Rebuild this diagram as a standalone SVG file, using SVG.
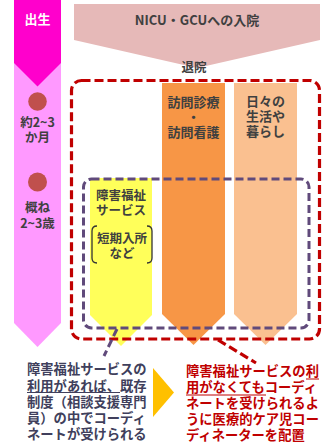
<svg xmlns="http://www.w3.org/2000/svg" width="328" height="442" viewBox="0 0 328 442">
<style>
text{font-family:"Noto Sans CJK JP","Noto Sans",sans-serif;font-weight:bold}
.lbl{font-size:13px;fill:#404040;text-anchor:middle}
.sm{font-size:12.5px;fill:#404040;text-anchor:middle}
.note{font-size:13.3px;fill:#403F5C}
.red{font-size:13.3px;fill:#C00000}
.reddash{fill:none;stroke:#C00000;stroke-width:3.2;stroke-dasharray:9,4}
.purdash{fill:none;stroke:#604A7B;stroke-width:3;stroke-dasharray:8,4}
</style>
<rect width="328" height="442" fill="#FFFFFF"/>
<g id="timeline">
<polygon points="14,0 61,0 61,323 37.5,347 14,323" fill="#FF99FF"/>
<polygon points="14,0 61,0 61,63 37.5,86.5 14,63" fill="#FF00CC"/>
<text x="37.5" y="24" class="lbl" style="fill:#FFFFFF">出生</text>
<circle cx="37.5" cy="101.5" r="9.3" fill="#C0504D"/>
<text x="37.5" y="127" class="sm">約2~3</text>
<text x="37.5" y="142" class="sm">か月</text>
<circle cx="37.5" cy="182" r="9.5" fill="#C0504D"/>
<text x="37.5" y="212" class="sm">概ね</text>
<text x="37.5" y="228" class="sm">2~3歳</text>
</g>
<g id="nicu">
<polygon points="74,4 320,4 320,40 197,68 74,40" fill="#E6B9B8"/>
<text x="197" y="25" class="lbl">NICU・GCUへの入院</text>
<text x="194" y="72" class="sm">退院</text>
</g>
<g id="homecare">
<polygon points="162,83 225,83 225,314 193.5,345 162,314" fill="#F79646"/>
<text x="193.5" y="107" class="lbl">訪問診療</text>
<text x="193.5" y="122" class="lbl">・</text>
<text x="193.5" y="137" class="lbl">訪問看護</text>
</g>
<g id="dailylife">
<polygon points="234,83 297,83 297,314 265.5,345 234,314" fill="#FAC090"/>
<text x="265.5" y="106" class="lbl">日々の</text>
<text x="265.5" y="121" class="lbl">生活や</text>
<text x="265.5" y="136" class="lbl">暮らし</text>
</g>
<g id="welfare">
<polygon points="90,178 152,178 152,315 121,346 90,315" fill="#FFFF5A"/>
<text x="121" y="200" class="sm">障害福祉</text>
<text x="121" y="215" class="sm">サービス</text>
<path d="M97,226 Q92,226 92,231 L92,258 Q92,263 97,263 M147,226 Q152,226 152,231 L152,258 Q152,263 147,263" fill="none" stroke="#333333" stroke-width="1.3"/>
<text x="122" y="243" class="sm">短期入所</text>
<text x="122" y="258" class="sm">など</text>
</g>
<g id="frames">
<rect x="71.5" y="80.5" width="248" height="258.5" rx="10" class="reddash"/>
<rect x="83.5" y="179" width="225.5" height="149" rx="8" class="purdash"/>
</g>
<g id="connectors">
<line x1="117" y1="329" x2="104" y2="356" class="purdash"/>
<line x1="218" y1="340" x2="256" y2="363" class="reddash"/>
<polygon points="153,368 174,392.5 153,417" fill="#FFC000"/>
</g>
<g id="note-left">
<text x="27" y="374" class="note">障害福祉サービスの</text>
<text x="27" y="390.5" class="note">利用があれば、既存</text>
<text x="27" y="407" class="note">制度（相談支援専門</text>
<text x="27" y="423" class="note">員）の中でコーディ</text>
<text x="27" y="439" class="note">ネートが受けられる</text>
<line x1="27" y1="392.5" x2="120" y2="392.5" stroke="#403F5C" stroke-width="1"/>
</g>
<g id="note-right">
<text x="186" y="375.5" class="red">障害福祉サービスの利</text>
<text x="186" y="392" class="red">用がなくてもコーディ</text>
<text x="186" y="408" class="red">ネートを受けられるよ</text>
<text x="186" y="424" class="red">うに医療的ケア児コー</text>
<text x="186" y="440" class="red">ディネーターを配置</text>
<line x1="306" y1="379" x2="319" y2="379" stroke="#C00000" stroke-width="1"/>
<line x1="186" y1="395" x2="266" y2="395" stroke="#C00000" stroke-width="1"/>
</g>
</svg>
